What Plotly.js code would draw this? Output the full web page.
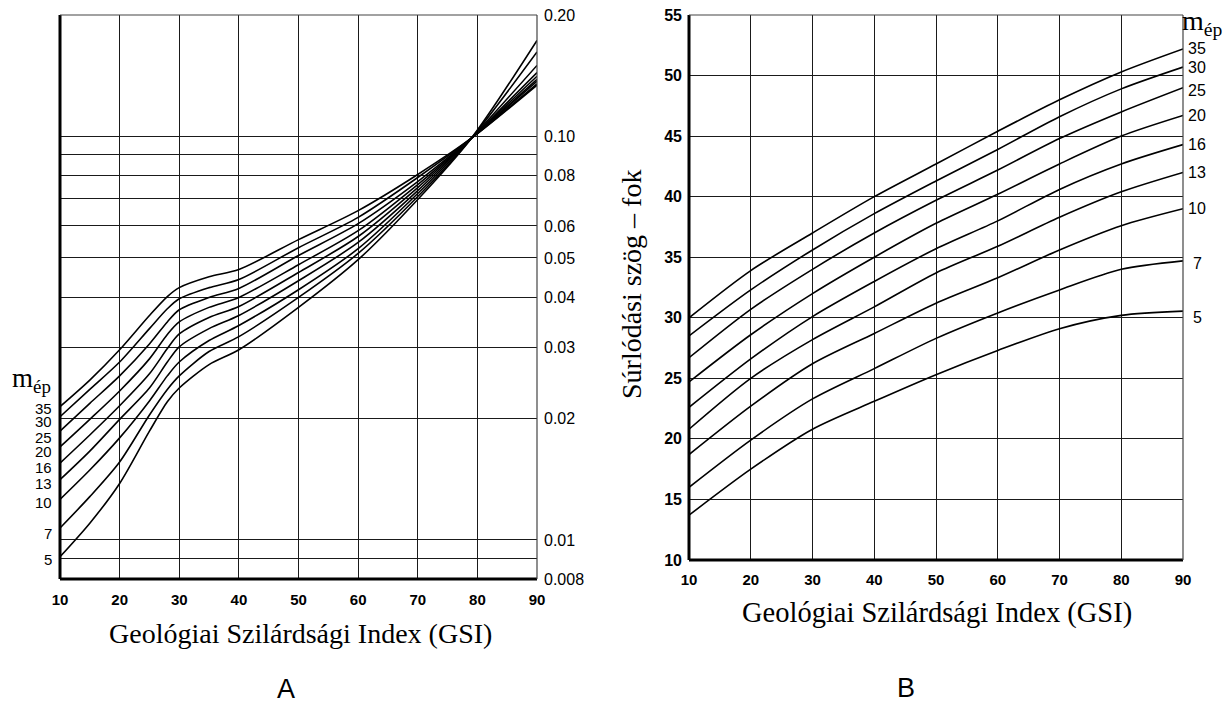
<!DOCTYPE html>
<html>
<head>
<meta charset="utf-8">
<script src="https://cdn.plot.ly/plotly-3.0.1.min.js"></script>
<style>html,body{margin:0;padding:0;background:#fff}</style>
</head>
<body>
<div id="chart" style="width:1228px;height:703px"></div>
<script>
// m_ép values of the rock, one curve per value
const mValues = [35, 30, 25, 20, 16, 13, 10, 7, 5];

// Panel A: c'/σci against GSI (log scale)
const gsiA = [10, 15, 20, 25, 28, 30, 35, 40, 50, 60, 70, 79, 90];
const ratioM35 = [0.0214, 0.0249, 0.0296, 0.0360, 0.0401, 0.0422, 0.0449, 0.0468, 0.0555, 0.0655, 0.0805, 0.099, 0.134];
const ratioM30 = [0.0202, 0.0236, 0.0276, 0.0334, 0.0374, 0.0396, 0.0422, 0.0442, 0.0530, 0.0630, 0.0791, 0.099, 0.135];
const ratioM25 = [0.0186, 0.0218, 0.0255, 0.0306, 0.0347, 0.0372, 0.0399, 0.0420, 0.0507, 0.0608, 0.0773, 0.099, 0.137];
const ratioM20 = [0.0170, 0.0199, 0.0234, 0.0281, 0.0323, 0.0347, 0.0377, 0.0399, 0.0481, 0.0584, 0.0760, 0.099, 0.1385];
const ratioM16 = [0.0155, 0.0182, 0.0215, 0.0258, 0.0298, 0.0324, 0.0356, 0.0379, 0.0460, 0.0565, 0.0747, 0.099, 0.141];
const ratioM13 = [0.0141, 0.0166, 0.0199, 0.0238, 0.0276, 0.0301, 0.0334, 0.0360, 0.0439, 0.0546, 0.0734, 0.099, 0.144];
const ratioM10 = [0.0126, 0.0149, 0.0179, 0.0221, 0.0255, 0.0276, 0.0312, 0.0340, 0.0417, 0.0527, 0.0722, 0.099, 0.150];
const ratioM7  = [0.0107, 0.0128, 0.0156, 0.0204, 0.0236, 0.0255, 0.0293, 0.0319, 0.0399, 0.0513, 0.0710, 0.099, 0.162];
const ratioM5  = [0.00908, 0.0110, 0.0138, 0.0186, 0.0220, 0.0238, 0.0272, 0.0296, 0.0377, 0.0495, 0.0698, 0.099, 0.173];

// Panel B: friction angle (degrees) against GSI
const gsiB = [10, 20, 30, 40, 50, 60, 70, 80, 90];
const phiM35 = [30.0, 33.9, 37.0, 40.0, 42.7, 45.4, 48.0, 50.3, 52.2];
const phiM30 = [28.5, 32.3, 35.6, 38.6, 41.3, 43.9, 46.6, 48.9, 50.7];
const phiM25 = [26.7, 30.7, 34.0, 37.0, 39.7, 42.2, 44.8, 47.0, 49.0];
const phiM20 = [24.7, 28.6, 32.0, 35.0, 37.8, 40.2, 42.7, 45.0, 46.7];
const phiM16 = [22.6, 26.6, 30.1, 33.0, 35.7, 38.0, 40.6, 42.7, 44.3];
const phiM13 = [20.8, 25.0, 28.2, 30.9, 33.7, 35.9, 38.3, 40.4, 42.0];
const phiM10 = [18.7, 22.7, 26.2, 28.7, 31.2, 33.3, 35.6, 37.6, 39.0];
const phiM7  = [16.0, 19.9, 23.3, 25.8, 28.3, 30.4, 32.3, 34.0, 34.7];
const phiM5  = [13.7, 17.5, 20.8, 23.1, 25.3, 27.3, 29.1, 30.2, 30.55];

// Axis ticks
const gsiTicks = [10, 20, 30, 40, 50, 60, 70, 80, 90];
const ratioTickVals = [0.008, 0.009, 0.01, 0.02, 0.03, 0.04, 0.05, 0.06, 0.07, 0.08, 0.09, 0.10, 0.20];
const ratioTickText = ['0.008', '', '0.01', '0.02', '0.03', '0.04', '0.05', '0.06', '', '0.08', '', '0.10', '0.20'];
const phiTicks = [10, 15, 20, 25, 30, 35, 40, 45, 50, 55];

// Texts
const xTitle = 'Geológiai Szilárdsági Index (GSI)';
const phiTitle = 'Súrlódási szög – fok';
const mTitle = 'm<sub>ép</sub>';

const ratioSeries = [ratioM35, ratioM30, ratioM25, ratioM20, ratioM16, ratioM13, ratioM10, ratioM7, ratioM5];
const phiSeries = [phiM35, phiM30, phiM25, phiM20, phiM16, phiM13, phiM10, phiM7, phiM5];

// Small vertical nudges (px) so the stacked curve labels stay readable
const leftLabelShift = [-2, -5, -6, -5, -4, -4, -3, -5, -3];
const rightLabelShift = [0, 0, -3, 0, 0, 0, 0, -3, -6];

const W = 1228, H = 703;
const px = v => v / W;
const py = v => (H - v) / H;

const lineStyle = {color: '#000', width: 1.6, shape: 'spline', smoothing: 0.8};
const traces = [];
ratioSeries.forEach((ys, i) => traces.push({
  x: gsiA, y: ys, xaxis: 'x', yaxis: 'y', mode: 'lines', line: lineStyle,
  name: 'm=' + mValues[i], hoverinfo: 'x+y'
}));
phiSeries.forEach((ys, i) => traces.push({
  x: gsiB, y: ys, xaxis: 'x2', yaxis: 'y2', mode: 'lines', line: lineStyle,
  name: 'm=' + mValues[i], hoverinfo: 'x+y'
}));

const SANS = 'Liberation Sans, Arial, sans-serif';
const SERIF = 'Liberation Serif, Times New Roman, serif';
const tickFontBold = {family: SANS, size: 15, color: '#000', weight: 'bold'};
const tickFont = {family: SANS, size: 16, color: '#000'};
const grid = {showgrid: true, gridcolor: '#1a1a1a', gridwidth: 1, zeroline: false, showline: false, ticks: ''};

const annotations = [];
// m labels at the start of panel A curves
ratioSeries.forEach((ys, i) => annotations.push({
  xref: 'x', yref: 'y', x: gsiA[0], y: Math.log10(ys[0]),
  text: String(mValues[i]), showarrow: false, xanchor: 'right', yanchor: 'middle',
  xshift: -6, yshift: leftLabelShift[i], height: 13,
  font: {family: SANS, size: 15, color: '#000'}
}));
// m labels at the end of panel B curves
phiSeries.forEach((ys, i) => annotations.push({
  xref: 'x2', yref: 'y2', x: gsiB[gsiB.length - 1], y: ys[ys.length - 1],
  text: String(mValues[i]), showarrow: false, xanchor: 'center', yanchor: 'middle',
  xshift: 14, yshift: rightLabelShift[i],
  font: {family: SANS, size: 16, color: '#000'}
}));
const txt = (x, y, text, font, extra) => Object.assign({
  xref: 'paper', yref: 'paper', x: px(x), y: py(y), text: text, showarrow: false,
  xanchor: 'center', yanchor: 'middle', font: font
}, extra || {});
annotations.push(
  txt(31, 380, mTitle, {family: SERIF, size: 27, color: '#000'}),
  txt(1180, 22, mTitle, {family: SERIF, size: 28, color: '#000'}, {xanchor: 'left'}),
  txt(300, 633, xTitle, {family: SERIF, size: 28, color: '#000'}),
  txt(937, 613, xTitle, {family: SERIF, size: 28.5, color: '#000'}),
  txt(631, 285, phiTitle, {family: SERIF, size: 28, color: '#000'}, {textangle: -90}),
  txt(286, 689, 'A', {family: SANS, size: 27, color: '#000'}),
  txt(906, 688, 'B', {family: SANS, size: 27, color: '#000'})
);

// Plot frames: heavy left and bottom edges, light top and right edges
function frame(xr, yr) {
  return [
    {type: 'line', xref: xr + ' domain', yref: yr + ' domain', x0: 0, x1: 0, y0: 0, y1: 1, line: {color: '#000', width: 3}},
    {type: 'line', xref: xr + ' domain', yref: yr + ' domain', x0: 0, x1: 1, y0: 0, y1: 0, line: {color: '#000', width: 3}},
    {type: 'line', xref: xr + ' domain', yref: yr + ' domain', x0: 0, x1: 1, y0: 1, y1: 1, line: {color: '#444', width: 1.2}},
    {type: 'line', xref: xr + ' domain', yref: yr + ' domain', x0: 1, x1: 1, y0: 0, y1: 1, line: {color: '#444', width: 1.2}}
  ];
}

const layout = {
  width: W, height: H,
  margin: {l: 0, r: 0, t: 0, b: 0},
  paper_bgcolor: '#fff', plot_bgcolor: '#fff',
  showlegend: false,
  xaxis: Object.assign({}, grid, {
    domain: [px(60), px(537)], anchor: 'y', range: [10, 90],
    tickvals: gsiTicks, tickfont: tickFontBold, ticklabelstandoff: 10
  }),
  yaxis: Object.assign({}, grid, {
    domain: [py(579), py(15)], anchor: 'x', side: 'right', type: 'log',
    range: [Math.log10(0.008), Math.log10(0.2)],
    tickvals: ratioTickVals, ticktext: ratioTickText, tickfont: tickFont, ticklabelstandoff: 6
  }),
  xaxis2: Object.assign({}, grid, {
    domain: [px(689), px(1183)], anchor: 'y2', range: [10, 90],
    tickvals: gsiTicks, tickfont: tickFontBold, ticklabelstandoff: 9
  }),
  yaxis2: Object.assign({}, grid, {
    domain: [py(560), py(15)], anchor: 'x2', range: [10, 55],
    tickvals: phiTicks, tickfont: Object.assign({}, tickFontBold, {size: 16}), ticklabelstandoff: 6
  }),
  shapes: frame('x', 'y').concat(frame('x2', 'y2')),
  annotations: annotations
};

Plotly.newPlot('chart', traces, layout, {displayModeBar: false, staticPlot: true});
</script>
</body>
</html>
